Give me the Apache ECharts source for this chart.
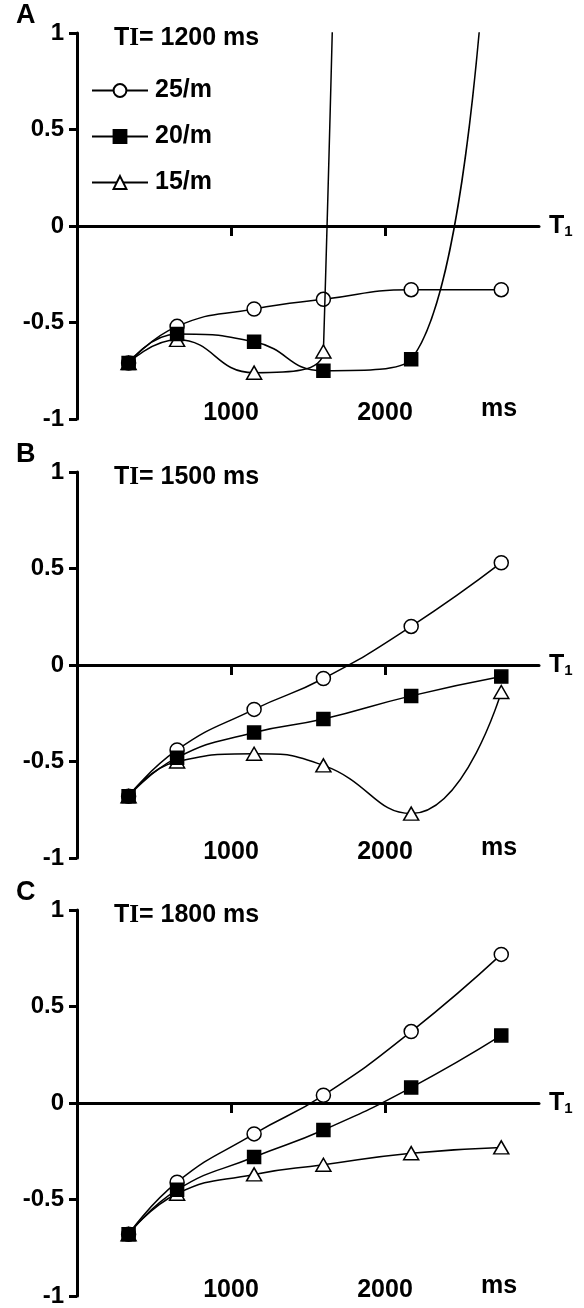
<!DOCTYPE html>
<html>
<head>
<meta charset="utf-8">
<script src="https://cdn.jsdelivr.net/npm/echarts@6/dist/echarts.min.js"></script>
<style>
  html, body { margin: 0; padding: 0; background: #fff; }
  #chart { width: 584px; height: 1308px; }
</style>
</head>
<body>
<div id="chart"></div>
<script>
// ---- data ----
const T1 = [335, 650, 1150, 1600, 2170, 2755];           // ms
const seriesNames = ['25/m', '20/m', '15/m'];
const panelLetters = ['A', 'B', 'C'];
const panelTI = ['1200', '1500', '1800'];                 // TI in ms
const xTickValues = [1000, 2000];

// Panel A (TI = 1200 ms) ; off-chart values estimated from the line direction
const A_25 = [-0.71, -0.52, -0.43, -0.38, -0.33, -0.33];
const A_20 = [-0.71, -0.56, -0.60, -0.75, -0.69, 3.2];
const A_15 = [-0.71, -0.59, -0.76, -0.65, 45];
// Panel B (TI = 1500 ms)
const B_25 = [-0.68, -0.44, -0.23, -0.07, 0.20, 0.53];
const B_20 = [-0.68, -0.48, -0.35, -0.28, -0.16, -0.06];
const B_15 = [-0.68, -0.50, -0.46, -0.52, -0.77, -0.14];
// Panel C (TI = 1800 ms)
const C_25 = [-0.68, -0.41, -0.16, 0.04, 0.37, 0.77];
const C_20 = [-0.68, -0.45, -0.28, -0.14, 0.08, 0.35];
const C_15 = [-0.68, -0.47, -0.37, -0.32, -0.26, -0.23];

const panels = [[A_25, A_20, A_15], [B_25, B_20, B_15], [C_25, C_20, C_15]];

// ---- styling / layout ----
const FONT = '"Liberation Sans", Arial, Helvetica, sans-serif';
const gridTops = [33, 472, 910];
const GRID_LEFT = 77, GRID_W = 462, GRID_H = 386;

const symbolDefs = [
  { symbol: 'circle', size: 14, fill: '#fff', z: 2 },
  { symbol: 'rect', size: 13, fill: '#000', z: 4 },
  { symbol: 'triangle', size: [15, 13], fill: '#fff', z: 3 }
];

const grids = [], xAxes = [], yAxes = [], series = [], graphics = [];

gridTops.forEach((top, p) => {
  grids.push({ left: GRID_LEFT, top: top, width: GRID_W, height: GRID_H, outerBoundsMode: 'none', containLabel: false });

  // y axis
  yAxes.push({
    type: 'value', gridIndex: p, min: -1, max: 1, interval: 0.5,
    axisLine: { show: true, onZero: false, lineStyle: { color: '#000', width: 3 } },
    axisTick: { show: true, length: 8, lineStyle: { color: '#000', width: 3 } },
    axisLabel: { color: '#000', fontSize: 24, fontWeight: 'bold', fontFamily: FONT, margin: 13 },
    splitLine: { show: false }
  });

  // x axis drawn on zero (line + ticks + name)
  xAxes.push({
    type: 'value', gridIndex: p, min: 0, max: 3000, interval: 1000, position: 'bottom',
    axisLine: { show: true, onZero: true, lineStyle: { color: '#000', width: 3 } },
    axisTick: { show: true, customValues: xTickValues, length: 10, lineStyle: { color: '#000', width: 3 } },
    axisLabel: { show: false },
    splitLine: { show: false },
    name: '{t|T}{s|1}', nameLocation: 'end', nameGap: 10,
    nameTextStyle: {
      color: '#000', fontFamily: FONT, fontWeight: 'bold',
      rich: {
        t: { fontSize: 25, fontWeight: 'bold', fontFamily: FONT, color: '#000', lineHeight: 26 },
        s: { fontSize: 15, fontWeight: 'bold', fontFamily: FONT, color: '#000', lineHeight: 14, verticalAlign: 'bottom' }
      }
    }
  });
  // x axis carrying the labels at the bottom
  xAxes.push({
    type: 'value', gridIndex: p, min: 0, max: 3000, interval: 1000, position: 'bottom',
    axisLine: { show: false, onZero: false },
    axisTick: { show: false },
    axisLabel: { show: true, customValues: xTickValues, color: '#000', fontSize: 25, fontWeight: 'bold',
                 fontFamily: FONT, margin: -6, verticalAlign: 'middle', formatter: v => String(v) },
    splitLine: { show: false }
  });

  panels[p].forEach((vals, s) => {
    const d = symbolDefs[s];
    series.push({
      name: seriesNames[s], type: 'line', xAxisIndex: 2 * p, yAxisIndex: p,
      data: vals.map((v, i) => [T1[i], v]),
      smooth: true, clip: true, z: d.z,
      symbol: d.symbol, symbolSize: d.size, showAllSymbol: true,
      lineStyle: { color: '#000', width: 1.5 },
      itemStyle: { color: d.fill, borderColor: '#000', borderWidth: 1.5 },
      emphasis: { disabled: true }, silent: true
    });
  });

  // panel letter
  graphics.push({ type: 'text', left: 16, top: top - 31,
    style: { text: panelLetters[p], font: 'bold 27px ' + FONT, fill: '#000' } });
  // TI label
  graphics.push({ type: 'text', left: 114, top: top - 7,
    style: {
      text: '{a|T}{b|I}{a|= ' + panelTI[p] + ' ms}',
      rich: {
        a: { font: 'bold 25px ' + FONT, fill: '#000' },
        b: { font: 'bold 25px "Liberation Serif", "Times New Roman", serif', fill: '#000' }
      }
    } });
  // unit label
  graphics.push({ type: 'text', left: 481, top: top + GRID_H - 22,
    style: { text: 'ms', font: 'bold 25px ' + FONT, fill: '#000' } });
});

const option = {
  animation: false,
  backgroundColor: '#fff',
  grid: grids, xAxis: xAxes, yAxis: yAxes, series: series,
  legend: {
    data: seriesNames, orient: 'vertical', left: 91, top: 78,
    itemWidth: 56, itemHeight: 16, itemGap: 21, padding: 0, selectedMode: false,
    textStyle: { color: '#000', fontSize: 25, fontWeight: 'bold', fontFamily: FONT, padding: [0, 0, 0, 2] }
  },
  graphic: graphics
};

const chart = echarts.init(document.getElementById('chart'), null, { renderer: 'canvas' });
chart.setOption(option);
</script>
</body>
</html>
